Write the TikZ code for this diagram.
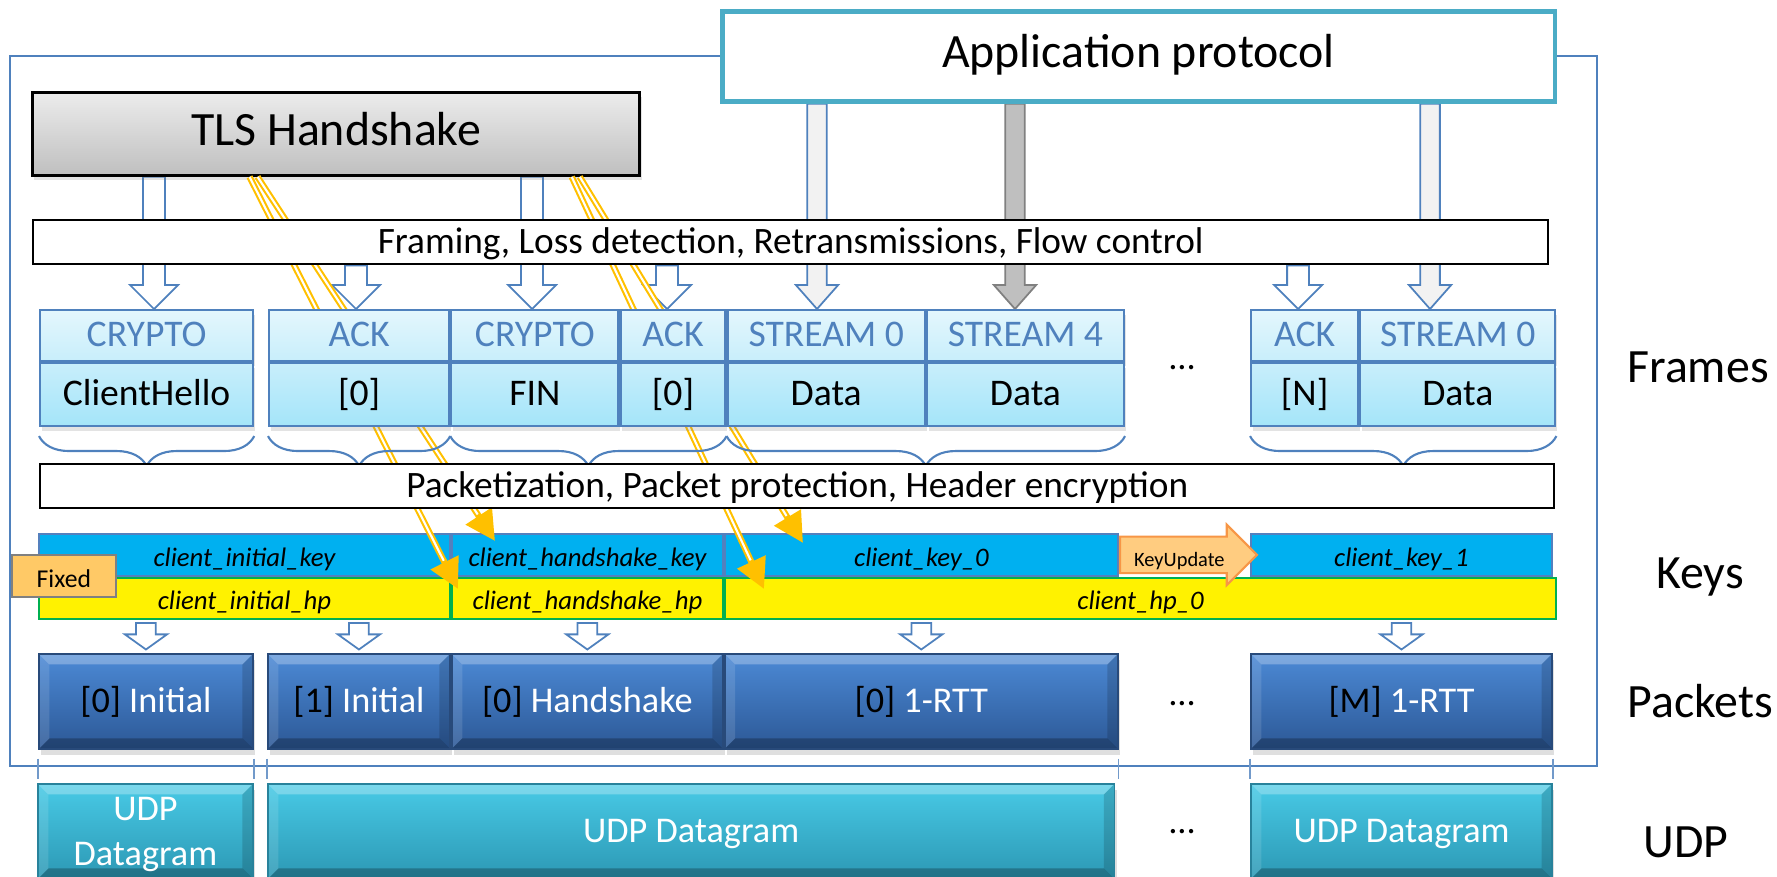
\documentclass[tikz,border=0pt]{standalone}
\usepackage{fontspec}
\setmainfont{Carlito}
\usepackage{xcolor}
\usetikzlibrary{arrows.meta,positioning,calc,shapes.arrows,shadows,decorations.pathreplacing}

\definecolor{qblue}{RGB}{79,129,189}
\definecolor{appteal}{RGB}{75,172,198}
\definecolor{frmtop}{RGB}{228,247,253}
\definecolor{frmmid}{RGB}{200,238,251}
\definecolor{frmbot}{RGB}{164,229,249}
\definecolor{keycyan}{RGB}{0,176,240}
\definecolor{keyedge}{RGB}{84,128,190}
\definecolor{hpgreen}{RGB}{0,176,80}
\definecolor{tlsorange}{RGB}{255,192,0}
\definecolor{fixedfill}{RGB}{255,201,102}
\definecolor{kufill}{RGB}{255,204,128}
\definecolor{kuedge}{RGB}{247,150,70}
\definecolor{pkttop}{RGB}{76,138,214}
\definecolor{pktbot}{RGB}{44,88,150}
\definecolor{pktedge}{RGB}{40,74,122}
\definecolor{udptop}{RGB}{72,202,230}
\definecolor{udpbot}{RGB}{44,152,180}
\definecolor{udpedge}{RGB}{40,130,155}

\pgfdeclarelayer{back}
\pgfsetlayers{back,main}

\begin{document}
\begin{tikzpicture}[x=0.01cm,y=-0.01cm,
  big/.style={font=\fontsize{13.6}{16}\selectfont,text height=0.64em,text depth=0pt},
  softshadow/.style={drop shadow={opacity=0.22,shadow xshift=0.5pt,shadow yshift=-1.3pt}},
  layerbar/.style={draw,line width=0.7pt,fill=white,anchor=north west,inner sep=0pt,
    minimum height=0.44cm,text height=0.64em,text depth=0pt,font=\fontsize{10.6}{12}\selectfont},
  fhead/.style={draw=qblue,line width=0.6pt,top color=frmtop,bottom color=frmmid,
    anchor=north west,inner sep=0pt,minimum height=0.51cm,text height=0.64em,text depth=0pt,
    text=qblue,font=\fontsize{10.7}{12}\selectfont,softshadow},
  fbody/.style={fhead,top color=frmmid,bottom color=frmbot,minimum height=0.63cm,text=black},
  keyseg/.style={draw=keyedge,line width=0.5pt,fill=keycyan,anchor=north west,inner sep=0pt,
    minimum height=0.42cm,text height=0.64em,text depth=0pt,font=\fontsize{7.6}{9}\selectfont\itshape},
  hpseg/.style={keyseg,draw=hpgreen,fill=yellow,minimum height=0.41cm},
  bevel/.style={path picture={
    \fill[white,opacity=0.28] (path picture bounding box.north west) -- (path picture bounding box.north east)
      -- ([shift={(-3pt,-3pt)}]path picture bounding box.north east) -- ([shift={(3pt,-3pt)}]path picture bounding box.north west) -- cycle;
    \fill[white,opacity=0.12] (path picture bounding box.north west) -- ([shift={(3pt,-3pt)}]path picture bounding box.north west)
      -- ([shift={(3pt,3pt)}]path picture bounding box.south west) -- (path picture bounding box.south west) -- cycle;
    \fill[black,opacity=0.15] (path picture bounding box.north east) -- ([shift={(-3pt,-3pt)}]path picture bounding box.north east)
      -- ([shift={(-3pt,3pt)}]path picture bounding box.south east) -- (path picture bounding box.south east) -- cycle;
    \fill[black,opacity=0.25] (path picture bounding box.south west) -- ([shift={(3pt,3pt)}]path picture bounding box.south west)
      -- ([shift={(-3pt,3pt)}]path picture bounding box.south east) -- (path picture bounding box.south east) -- cycle;
  }},
  pkt/.style={anchor=north west,inner sep=0pt,minimum height=0.95cm,text height=0.64em,text depth=0pt,
    text=white,font=\fontsize{10.3}{12.8}\selectfont,top color=pkttop,bottom color=pktbot,
    draw=pktedge,line width=0.5pt,drop shadow={opacity=0.25,shadow xshift=0.6pt,shadow yshift=-1.6pt},bevel},
  udp/.style={pkt,top color=udptop,bottom color=udpbot,draw=udpedge},
  blk/.style n args={4}{to path={let \p1=(\tikztostart),\p2=(\tikztotarget) in
    (\x1-#1,\y1-#4) -- (\x1-#1,\y2+#3+#4) -- (\x1-#2,\y2+#3+#4) -- (\x1,\y2+#4)
    -- (\x1+#2,\y2+#3+#4) -- (\x1+#1,\y2+#3+#4) -- (\x1+#1,\y1-#4) -- cycle}},
  tlsarr/.style={blk={3.1pt}{6.8pt}{6.8pt}{0pt},draw=qblue,line width=0.5pt,fill=white},
  apparr/.style={blk={2.8pt}{6pt}{6.8pt}{0pt},draw=qblue,line width=0.5pt,fill=gray!10},
  keyarr/.style={blk={2.8pt}{6pt}{4.3pt}{1pt},draw=qblue,line width=0.5pt,fill=white},
  keyline/.style={draw=tlsorange,line width=1.8pt,-{Triangle[length=8.5pt,width=8.5pt]},
    postaction={draw=white,line width=0.6pt,shorten >=9pt,-}},
  kuarr/.style={single arrow,draw=kuedge,fill=kufill,line width=0.6pt,minimum height=1.37cm,
    single arrow head extend=0.12cm,inner xsep=1pt,inner ysep=1.7pt,text height=0.64em,text depth=0pt,
    font=\fontsize{5.8}{7}\selectfont},
  fixedbox/.style={draw=gray,line width=0.5pt,fill=fixedfill,anchor=north west,inner sep=0pt,
    minimum width=1.04cm,minimum height=0.42cm,text height=0.64em,text depth=0pt,font=\fontsize{7.3}{9}\selectfont},
  brc/.style={draw=qblue,line width=0.6pt,decorate,decoration={brace,mirror,amplitude=8.5pt}},
  udptick/.style={draw=qblue!80,line width=0.4pt},
  side/.style={anchor=base,big},
  ell/.style={font=\fontsize{10.3}{12}\selectfont}
]
\useasboundingbox (0,0) rectangle (1777,876);

% QUIC boundary
\draw[qblue,line width=0.5pt] (10,56) rectangle (1597,766);

% layers above QUIC
\node[draw=appteal,line width=1.3pt,fill=white,anchor=north west,inner sep=0pt,
  minimum width=8.32cm,minimum height=0.90cm,big] (app) at (720,9) {Application protocol};
\node[draw,line width=0.8pt,top color=gray!15,bottom color=gray!50,anchor=north west,inner sep=0pt,
  minimum width=6.07cm,minimum height=0.83cm,big,softshadow] (tls) at (31,91) {TLS Handshake};

% keys and header protection
\node[keyseg,minimum width=4.11cm] (k1) at (38,533) {client\_initial\_key};
\node[keyseg,minimum width=2.71cm,right=0pt of k1] (k2) {client\_handshake\_key};
\node[keyseg,minimum width=3.93cm,right=0pt of k2] (k3) {client\_key\_0};
\node[keyseg,minimum width=3.01cm] (k4) at (1250,533) {client\_key\_1};
\node[hpseg,minimum width=4.11cm,below=0pt of k1] (h1) {client\_initial\_hp};
\node[hpseg,minimum width=2.71cm,right=0pt of h1] (h2) {client\_handshake\_hp};
\node[hpseg,minimum width=8.31cm,right=0pt of h2] (h3) {client\_hp\_0};
\node[fixedbox] (fix) at (11,554) {Fixed};
\node[kuarr,right=0pt of k3] (ku) {KeyUpdate};

% secrets from the handshake
\coordinate (hsHpTip) at (458,589);
\coordinate (hsKeyTip) at (495,541);
\coordinate (hp0Tip) at (764,589);
\coordinate (key0Tip) at (803,543);
\draw[keyline] ([xshift=-0.865cm]tls.south) -- (hsHpTip);
\draw[keyline] ([xshift=-0.785cm]tls.south) -- (hsKeyTip);
\draw[keyline] ([xshift=2.355cm]tls.south) -- (hp0Tip);
\draw[keyline] ([xshift=2.435cm]tls.south) -- (key0Tip);

% framing
\node[layerbar,minimum width=15.14cm] (fram) at (32,219) {Framing, Loss detection, Retransmissions, Flow control};

% frames
\node[fhead,minimum width=2.13cm] (c1h) at (39,309) {CRYPTO};
\node[fbody,minimum width=2.13cm,below=0pt of c1h] (c1b) {ClientHello};
\node[fhead,minimum width=1.80cm] (a1h) at (268,309) {ACK};
\node[fbody,minimum width=1.80cm,below=0pt of a1h] (a1b) {[0]};
\node[fhead,minimum width=1.67cm,right=0pt of a1h] (c2h) {CRYPTO};
\node[fbody,minimum width=1.67cm,below=0pt of c2h] (c2b) {FIN};
\node[fhead,minimum width=1.05cm,right=0pt of c2h] (a2h) {ACK};
\node[fbody,minimum width=1.05cm,below=0pt of a2h] (a2b) {[0]};
\node[fhead,minimum width=1.97cm,right=0pt of a2h] (s0h) {STREAM 0};
\node[fbody,minimum width=1.97cm,below=0pt of s0h] (s0b) {Data};
\node[fhead,minimum width=1.97cm,right=0pt of s0h] (s4h) {STREAM 4};
\node[fbody,minimum width=1.97cm,below=0pt of s4h] (s4b) {Data};
\node[fhead,minimum width=1.07cm] (aNh) at (1250,309) {ACK};
\node[fbody,minimum width=1.07cm,below=0pt of aNh] (aNb) {[N]};
\node[fhead,minimum width=1.95cm,right=0pt of aNh] (s5h) {STREAM 0};
\node[fbody,minimum width=1.95cm,below=0pt of s5h] (s5b) {Data};
\node[ell] (fdots) at (1182,368) {…};

% one brace per packet
\draw[brc] ([yshift=-2.5pt]c1b.south west) -- ([yshift=-2.5pt]c1b.south east);
\draw[brc] ([yshift=-2.5pt]a1b.south west) -- ([yshift=-2.5pt]a1b.south east);
\draw[brc] ([yshift=-2.5pt]c2b.south west) -- ([yshift=-2.5pt]a2b.south east);
\draw[brc] ([yshift=-2.5pt]s0b.south west) -- ([yshift=-2.5pt]s4b.south east);
\draw[brc] ([yshift=-2.5pt]aNb.south west) -- ([yshift=-2.5pt]s5b.south east);

% packetization
\node[layerbar,minimum width=15.13cm] (pktz) at (39,463) {Packetization, Packet protection, Header encryption};

% packets
\node[pkt,minimum width=2.14cm] (p1) at (38,653) {{\color{black}[0]} Initial};
\node[pkt,minimum width=1.82cm] (p2) at (267,653) {{\color{black}[1]} Initial};
\node[pkt,minimum width=2.71cm,right=0pt of p2] (p3) {{\color{black}[0]} Handshake};
\node[pkt,minimum width=3.93cm,right=0pt of p3] (p4) {{\color{black}[0]} 1-RTT};
\node[pkt,minimum width=3.01cm] (p5) at (1250,653) {{\color{black}[M]} 1-RTT};
\node[ell] (pdots) at (1182,704) {…};

\foreach \a in {p1.south west,p1.south east,p2.south west,p4.south east,p5.south west,p5.south east}
  \draw[udptick] ([yshift=-2.5pt]\a) -- ([yshift=-8.2pt]\a);

% datagrams
\node[udp,minimum width=2.15cm,align=center,text height=19.4pt] (u1) at (37,783) {UDP\\Datagram};
\node[udp,minimum width=8.46cm] (u2) at (267,783) {UDP Datagram};
\node[udp,minimum width=3.01cm] (u3) at (1250,783) {UDP Datagram};
\node[ell] (udots) at (1182,832) {…};

% layer names
\node[side] (lfr) at (1698,382) {Frames};
\node[side] (lke) at (1700,588) {Keys};
\node[side] (lpk) at (1700,717) {Packets};
\node[side] (lud) at (1686,857) {UDP};

% block arrows, kept behind the bars
\foreach \n/\x in {ch/154,fin/532,ack1/356,ack2/667,ackN/1298,st0/817,st4/1015,st5/1430}
  \coordinate (col-\n) at (\x,0);
\begin{pgfonlayer}{back}
  \draw[tlsarr] (tls.south -| col-ch) to (c1h.north);
  \draw[tlsarr] (tls.south -| col-fin) to (c2h.north);
  \draw[tlsarr] (fram.south -| col-ack1) to (a1h.north);
  \draw[tlsarr] (fram.south -| col-ack2) to (a2h.north);
  \draw[tlsarr] (fram.south -| col-ackN) to (aNh.north);
  \draw[apparr] (app.south -| col-st0) to (s0h.north);
  \draw[apparr,fill=gray!50,draw=gray] (app.south -| col-st4) to (s4h.north);
  \draw[apparr] (app.south -| col-st5) to (s5h.north);
  \draw[keyarr] (h1.south -| p1.north) to (p1.north);
  \draw[keyarr] (h1.south -| p2.north) to (p2.north);
  \draw[keyarr] (h2.south -| p3.north) to (p3.north);
  \draw[keyarr] (h3.south -| p4.north) to (p4.north);
  \draw[keyarr] (h3.south -| p5.north) to (p5.north);
\end{pgfonlayer}
\end{tikzpicture}
\end{document}
